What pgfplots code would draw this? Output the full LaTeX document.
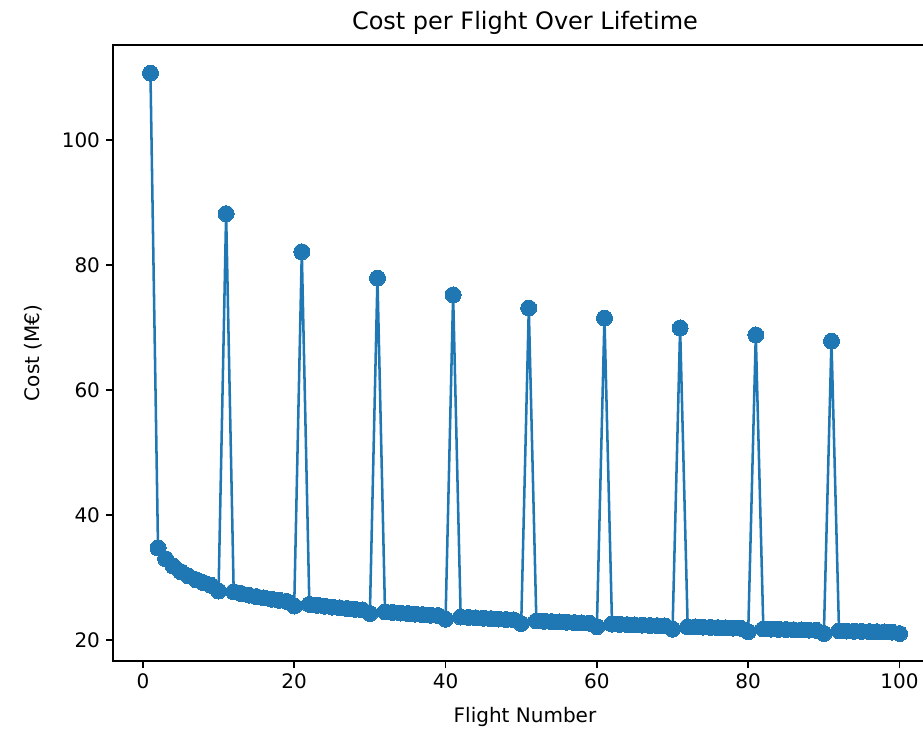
\documentclass[border=0pt]{standalone}
\usepackage{pgfplots}
\pgfplotsset{compat=1.18}
\usepackage{fontspec}
\setmainfont{DejaVu Sans}
\definecolor{tabblue}{HTML}{1F77B4}
\begin{document}
\begin{tikzpicture}
\path[use as bounding box] (-84.75pt,-54.75pt) rectangle (607.5pt,495.75pt);
\clip (-84.75pt,-54.75pt) rectangle (607.5pt,495.75pt);
\begin{axis}[
  at={(0,0)}, anchor=south west,
  scale only axis, width=618pt, height=462pt,
  xmin=-3.95, xmax=104.95, ymin=16.6, ymax=115.2,
  xtick={0,20,40,60,80,100}, ytick={20,40,60,80,100},
  tick align=outside, tick pos=left, major tick length=5.25pt,
  every tick/.style={black, line width=1.2pt},
  axis line style={line width=1.2pt},
  /pgf/number format/assume math mode=true,
  tick label style={font=\fontsize{15}{18}\selectfont},
  xticklabel style={yshift=-1pt},
  yticklabel style={xshift=-1pt},
  label style={font=\fontsize{15}{18}\selectfont},
  xlabel style={yshift=-7pt},
  ylabel style={yshift=8pt},
  title style={font=\fontsize{18}{21.6}\selectfont, yshift=-1.5pt},
  title={Cost per Flight Over Lifetime},
  xlabel={Flight Number}, ylabel={Cost (M€)},
]
\addplot[tabblue, line width=1.9pt, mark=*, mark size=6pt, mark options={fill=tabblue, draw=tabblue, line width=0pt}] coordinates {
(1,110.7) (2,34.70) (3,32.97) (4,31.80) (5,30.91) (6,30.21) (7,29.63) (8,29.14) (9,28.71) (10,27.8)
(11,88.2) (12,27.69) (13,27.41) (14,27.15) (15,26.92) (16,26.70) (17,26.50) (18,26.31) (19,26.13) (20,25.4)
(21,82.1) (22,25.65) (23,25.51) (24,25.37) (25,25.24) (26,25.12) (27,25.00) (28,24.88) (29,24.78) (30,24.2)
(31,77.9) (32,24.47) (33,24.37) (34,24.28) (35,24.20) (36,24.11) (37,24.03) (38,23.94) (39,23.87) (40,23.3)
(41,75.2) (42,23.64) (43,23.58) (44,23.51) (45,23.44) (46,23.38) (47,23.31) (48,23.25) (49,23.19) (50,22.6)
(51,73.1) (52,23.02) (53,22.96) (54,22.91) (55,22.86) (56,22.80) (57,22.75) (58,22.70) (59,22.66) (60,22.1)
(61,71.5) (62,22.51) (63,22.47) (64,22.42) (65,22.38) (66,22.34) (67,22.29) (68,22.25) (69,22.21) (70,21.7)
(71,69.9) (72,22.09) (73,22.06) (74,22.02) (75,21.98) (76,21.94) (77,21.91) (78,21.87) (79,21.84) (80,21.3)
(81,68.8) (82,21.73) (83,21.70) (84,21.67) (85,21.64) (86,21.60) (87,21.57) (88,21.54) (89,21.51) (90,21.0)
(91,67.8) (92,21.42) (93,21.39) (94,21.36) (95,21.33) (96,21.31) (97,21.28) (98,21.25) (99,21.22) (100,21.0)
};
\end{axis}
\end{tikzpicture}
\end{document}
